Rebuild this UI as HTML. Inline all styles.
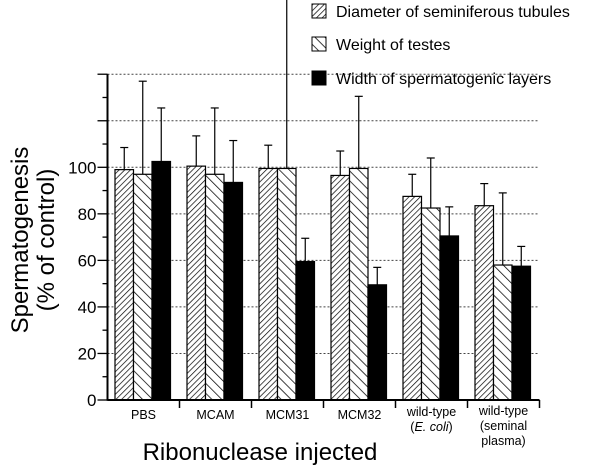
<!DOCTYPE html>
<html><head><meta charset="utf-8"><style>
body{margin:0;background:#fff;}
svg text{font-family:"Liberation Sans",Arial,sans-serif;fill:#000;}
</style></head><body>
<svg id="chart" width="600" height="468" xmlns="http://www.w3.org/2000/svg">
<defs>
<pattern id="hatchA" patternUnits="userSpaceOnUse" width="4" height="4" patternTransform="rotate(45)"><rect width="4" height="4" fill="#fff"/><line x1="0" y1="0" x2="0" y2="4" stroke="#000" stroke-width="1.4"/></pattern>
<pattern id="hatchB" patternUnits="userSpaceOnUse" width="7" height="7" patternTransform="rotate(-45)"><rect width="7" height="7" fill="#fff"/><line x1="0" y1="0" x2="0" y2="7" stroke="#000" stroke-width="1.5"/></pattern>
</defs>
<g id="grid"></g>
<g id="bars"></g>
<g id="axes"></g>
<g>
<rect x="312" y="4" width="14" height="14" fill="url(#hatchA)" stroke="#000"/>
<text x="336" y="17" font-size="16">Diameter of seminiferous tubules</text>
<rect x="312" y="37" width="14" height="14" fill="url(#hatchB)" stroke="#000"/>
<text x="336" y="50" font-size="16">Weight of testes</text>
<rect x="312" y="71" width="14" height="14" fill="#000" stroke="#000"/>
<text x="336" y="84" font-size="16">Width of spermatogenic layers</text>
</g>
<text x="260" y="460" font-size="24" text-anchor="middle">Ribonuclease injected</text>
<g transform="translate(0,240) rotate(-90)">
<text x="0" y="28" font-size="24" text-anchor="middle">Spermatogenesis</text>
<text x="0" y="54" font-size="24" text-anchor="middle">(% of control)</text>
</g>
</svg>
<script>
const categories=["PBS","MCAM","MCM31","MCM32","wild-type|(E. coli)","wild-type|(seminal|plasma)"];
const diameter=[99,100.5,99.5,96.5,87.5,83.5];
const diameterErr=[108.5,113.5,109.5,107,97,93];
const weight=[97,97,99.5,99.5,82.5,58];
const weightErr=[137,125.5,175,130.5,104,89];
const widthL=[102.5,93.5,59.5,49.5,70.5,57.5];
const widthErr=[125.5,111.5,69.5,57,83,66];
const yTicks=[0,20,40,60,80,100];
const NS="http://www.w3.org/2000/svg";
const x0=107.5,groupW=72,y0=400,pxPer=2.327,yMax=140;
const yS=v=>y0-v*pxPer;
const gx=i=>x0+i*groupW;
function mk(tag,attrs,parent){const e=document.createElementNS(NS,tag);for(const k in attrs)e.setAttribute(k,attrs[k]);parent.appendChild(e);return e;}
const grid=document.getElementById('grid'),bars=document.getElementById('bars'),axes=document.getElementById('axes');
for(let v=20;v<=yMax;v+=20){const l=mk('line',{x1:x0,x2:x0+groupW*categories.length,y1:yS(v),y2:yS(v),stroke:'#444','stroke-width':1,'stroke-dasharray':'2,2'},grid);

}
const series=[[diameter,diameterErr,'url(#hatchA)','diameter'],[weight,weightErr,'url(#hatchB)','weight'],[widthL,widthErr,'#000','width']];
categories.forEach((c,i)=>{series.forEach((s,j)=>{
 const bx=gx(i)+7.5+j*18.5,bw=18.5;
 const yv=yS(s[0][i]),ye=Math.max(0,yS(s[1][i]));const cx=bx+bw/2;
 const el=mk('line',{x1:cx,x2:cx,y1:ye,y2:yv,stroke:'#000','stroke-width':1.2},bars);
 
 
 if(yS(s[1][i])>0){const cp=mk('line',{x1:cx-4,x2:cx+4,y1:ye,y2:ye,stroke:'#000','stroke-width':1.2},bars);
 
 }
 const r=mk('rect',{x:bx,y:yv,width:bw,height:y0-yv,fill:s[2],stroke:'#000','stroke-width':1.2},bars);
 
 
});
 const t=mk('line',{x1:gx(i+1),x2:gx(i+1),y1:y0,y2:y0+8,stroke:'#000','stroke-width':1.5},axes);
 
 
 const lines=c.split('|');const cx=gx(i)+groupW/2;
 const tx=mk('text',{x:cx,y:lines.length>1?(lines.length>2?415:416):419,'font-size':12.5,'text-anchor':'middle'},axes);
 
 
 lines.forEach((ln,k)=>{const ts=mk('tspan',{x:cx,dy:k?15:0},tx);
  if(ln.indexOf('E. coli')>=0){ts.textContent='(';const it=mk('tspan',{'font-style':'italic'},ts);it.textContent='E. coli';ts.appendChild(document.createTextNode(')'));}
  else ts.textContent=ln;});
});
const ya=mk('line',{x1:x0,x2:x0,y1:yS(yMax),y2:y0+0.75,stroke:'#000','stroke-width':2},axes);


const xa=mk('line',{x1:x0,x2:gx(categories.length),y1:y0,y2:y0,stroke:'#000','stroke-width':2},axes);


for(let v=0;v<=yMax;v+=10){const major=v%20===0;
 const t=mk('line',{x1:major?x0-10:x0-5,x2:x0,y1:yS(v),y2:yS(v),stroke:'#000','stroke-width':1.3},axes);
 
 }
yTicks.forEach(v=>{const t=mk('text',{x:x0-11,y:yS(v)+6,'font-size':17,'text-anchor':'end'},axes);t.textContent=v;
 
 });
</script>
</body></html>
